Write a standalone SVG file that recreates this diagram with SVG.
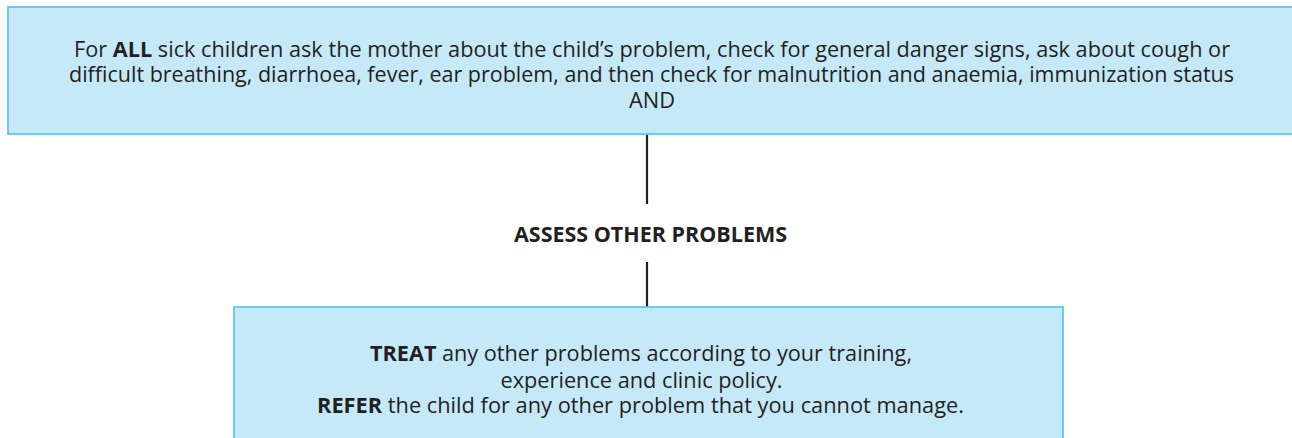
<svg xmlns="http://www.w3.org/2000/svg" width="1292" height="438" viewBox="0 0 1292 438">
<style>
.box{fill:#c6e9f9;stroke:#4ec1ef;stroke-width:1.6}
.t{font-family:"Open Sans","Liberation Sans",Arial,sans-serif;font-size:21px;fill:#231f20;text-anchor:middle}
.b{font-weight:700}
.conn{stroke:#231f20;stroke-width:2.2;fill:none}
</style>
<rect width="1292" height="438" fill="#ffffff"/>
<g id="node-top">
<rect class="box" x="8" y="7" width="1310" height="127"/>
<text class="t" x="652" y="56.5" textLength="1156" lengthAdjust="spacingAndGlyphs">For <tspan class="b">ALL</tspan> sick children ask the mother about the child’s problem, check for general danger signs, ask about cough or</text>
<text class="t" x="651.5" y="82" textLength="1165" lengthAdjust="spacingAndGlyphs">difficult breathing, diarrhoea, fever, ear problem, and then check for malnutrition and anaemia, immunization status</text>
<text class="t" x="652" y="108" textLength="46" lengthAdjust="spacingAndGlyphs">AND</text>
</g>
<g id="node-assess">
<text class="t b" x="650.5" y="242" textLength="273" lengthAdjust="spacingAndGlyphs">ASSESS OTHER PROBLEMS</text>
</g>
<g id="node-treat">
<rect class="box" x="234" y="307" width="829" height="150"/>
<text class="t" x="641" y="361" textLength="542" lengthAdjust="spacingAndGlyphs"><tspan class="b">TREAT</tspan> any other problems according to your training,</text>
<text class="t" x="641.5" y="387.5" textLength="282" lengthAdjust="spacingAndGlyphs">experience and clinic policy.</text>
<text class="t" x="640.5" y="413" textLength="647" lengthAdjust="spacingAndGlyphs"><tspan class="b">REFER</tspan> the child for any other problem that you cannot manage.</text>
</g>
<g id="connectors">
<line class="conn" x1="647" y1="134.8" x2="647" y2="204"/>
<line class="conn" x1="647" y1="262" x2="647" y2="306.2"/>
</g>
</svg>
